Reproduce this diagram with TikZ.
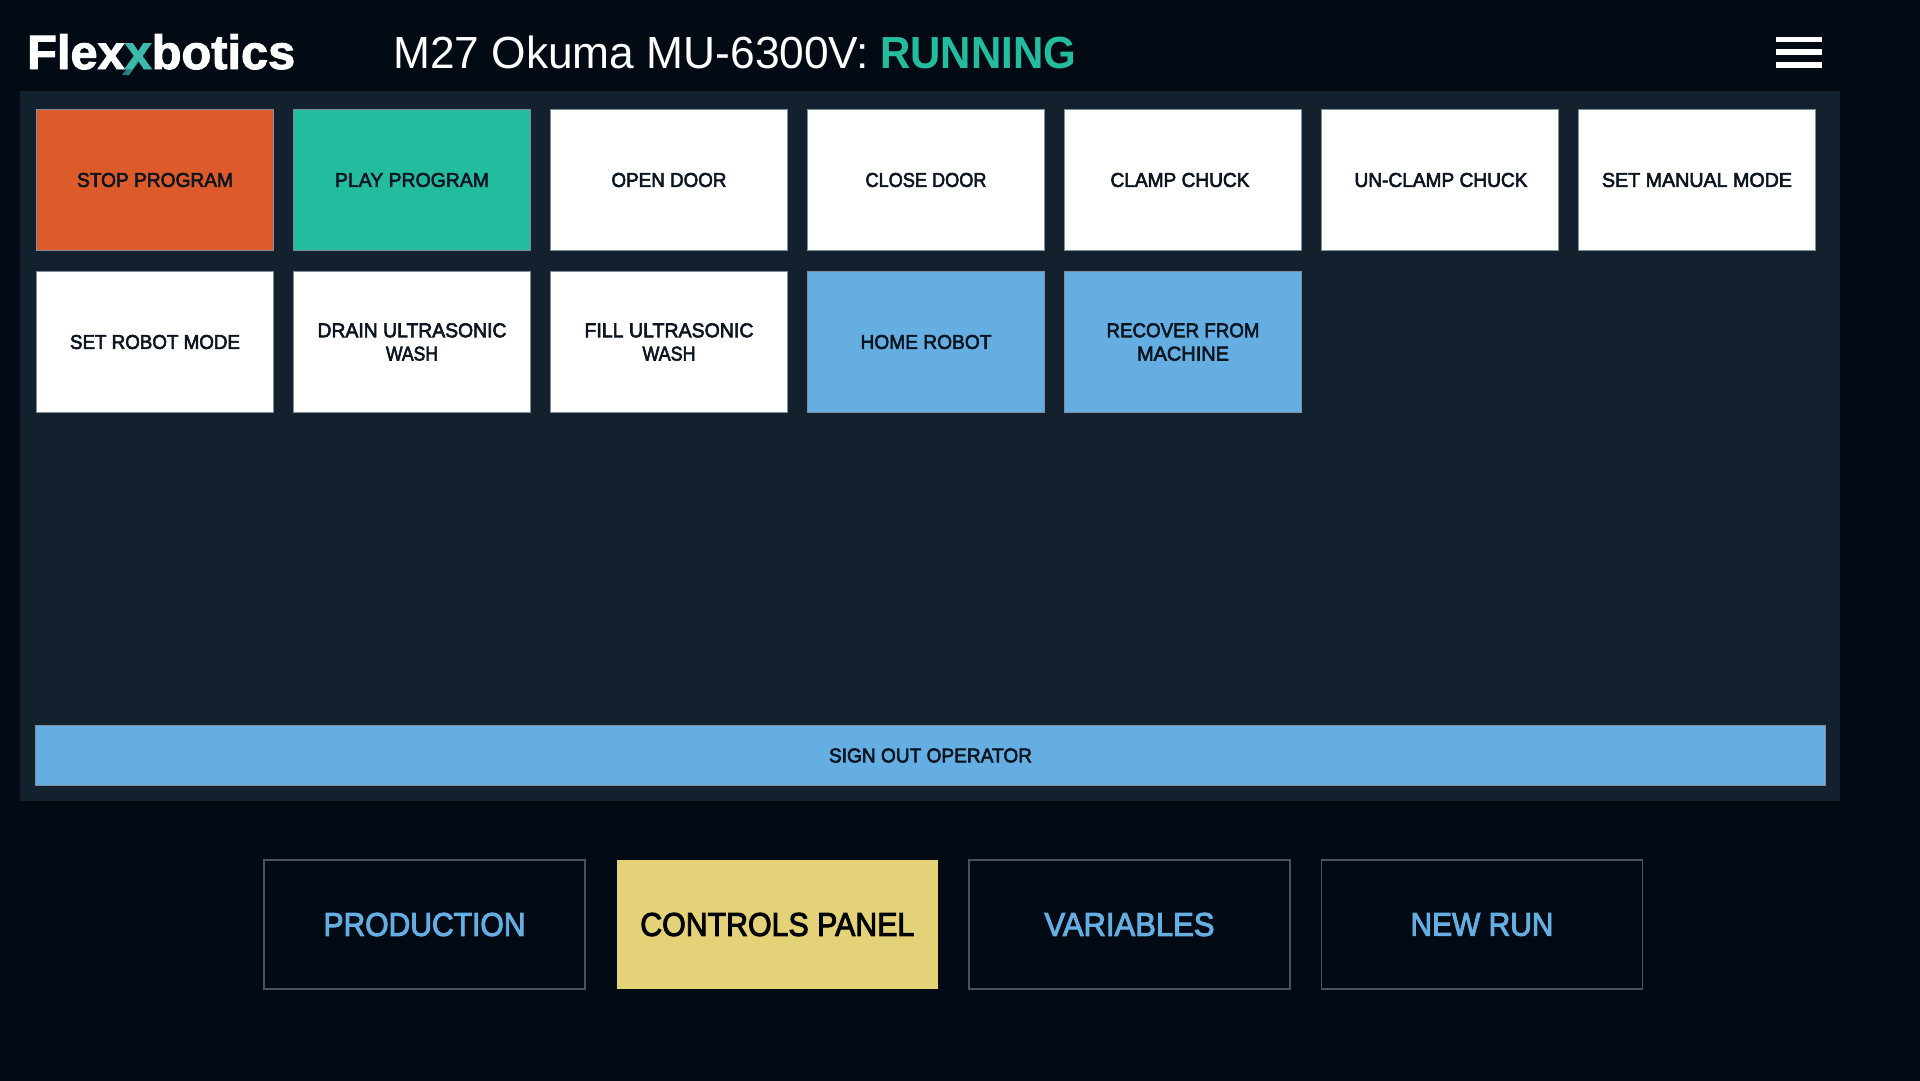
\documentclass[tikz,border=0pt]{standalone}
\usepackage{graphicx}
\usepackage{fontspec}
\setmainfont{Liberation Sans}
\newfontfamily\medfont[FakeBold=3]{Liberation Sans}
\newfontfamily\regfont{Liberation Sans}
\newfontfamily\boldfont{Liberation Sans Bold}
\newfontfamily\heavyfont[FakeBold=2]{Liberation Sans Bold}
\newcommand\fitw[2]{\resizebox{#1pt}{\height}{#2}}
\newcommand\fitb[2]{\raisebox{-1.6pt}{\resizebox{#1pt}{\height}{#2}}}
\definecolor{bgdark}{HTML}{020A14}
\definecolor{panelc}{HTML}{13202E}
\definecolor{edgec}{HTML}{7F8FA0}
\definecolor{orangec}{HTML}{DD5A2A}
\definecolor{tealc}{HTML}{24BC9F}
\definecolor{logoteal}{HTML}{3CB8AC}
\definecolor{bluec}{HTML}{65AEE2}
\definecolor{yellowc}{HTML}{E3D277}
\definecolor{inkc}{HTML}{0C1520}
\tikzset{
  x=1pt,y=-1pt,
  btn/.style={draw=edgec,line width=.8pt,minimum width=237.5pt,minimum height=141.5pt,inner sep=0pt,outer sep=0pt,
    text=inkc,align=center,font=\medfont\fontsize{20}{23.3}\selectfont},
  white btn/.style={btn,fill=white},
  tab/.style={draw=#1,line width=1.4pt,minimum width=321pt,minimum height=129pt,inner sep=0pt,outer sep=0pt,
    font=\medfont\fontsize{33}{36}\selectfont},
  bar/.style={fill=white,draw=none,minimum width=46pt,minimum height=5.8pt,inner sep=0pt},
}
\begin{document}
\begin{tikzpicture}
\useasboundingbox (0,0) rectangle (1920,1080);
\fill[bgdark] (-6,-6) rectangle (1926,1086);
\fill[panelc] (20,90.5) rectangle (1840,801);
% header
\shade[left color=bluec!25!bgdark,right color=logoteal,shading angle=45] (122,75) -- (129,75) -- (146,52) -- (138,52) -- cycle;
\node[anchor=base west,inner sep=0pt,text=white,font=\heavyfont\fontsize{48}{50}\selectfont] (logo) at (27,69)
  {\fitw{268}{Flex{\color{logoteal}x}botics}};
\node[anchor=base west,inner sep=0pt,text=white,font=\regfont\fontsize{45}{50}\selectfont] (title) at (393,68)
  {\fitw{476}{M27 Okuma MU-6300V:}};
\node[anchor=base west,inner sep=0pt,text=tealc,font=\boldfont\fontsize{45}{50}\selectfont] (status) at (880,68)
  {\fitw{196}{RUNNING}};
\node[bar] (m1) at (1798.7,39.5) {};
\node[bar] (m2) at (1798.7,52.2) {};
\node[bar] (m3) at (1798.7,64.9) {};
% row 1
\node[btn,fill=orangec] (stop) at (155,180) {\fitb{156}{STOP PROGRAM}};
\node[btn,fill=tealc] (play) at (412,180) {\fitb{154}{PLAY PROGRAM}};
\node[white btn] (open) at (669,180) {\fitb{115}{OPEN DOOR}};
\node[white btn] (close) at (926,180) {\fitb{121}{CLOSE DOOR}};
\node[white btn] (clamp) at (1183,180) {\fitb{139}{CLAMP CHUCK}\hspace*{6pt}};
\node[white btn] (unclamp) at (1440,180) {\hspace*{2pt}\fitb{173}{UN-CLAMP CHUCK}};
\node[white btn] (manual) at (1697,180) {\fitb{190}{SET MANUAL MODE}};
% row 2
\node[white btn] (robot) at (155,342) {\fitb{170}{SET ROBOT MODE}};
\node[white btn] (drain) at (412,342) {\fitb{189}{DRAIN ULTRASONIC}\\\fitb{52}{WASH}};
\node[white btn] (fill) at (669,342) {\fitb{169}{FILL ULTRASONIC}\\\fitb{53}{WASH}};
\node[btn,fill=bluec] (home) at (926,342) {\fitb{131}{HOME ROBOT}};
\node[btn,fill=bluec] (recover) at (1183,342) {\fitb{153}{RECOVER FROM}\\\fitb{92}{MACHINE}};
% sign out
\node[btn,fill=bluec,minimum width=1790pt,minimum height=60.5pt] (signout) at (930.5,755.5) {\fitb{203}{SIGN OUT OPERATOR}};
% tabs
\node[tab=edgec!55!bgdark,fill=bgdark,text=bluec] (prod) at (424.5,924.5) {\fitb{202}{PRODUCTION}};
\node[tab=yellowc,line width=.5pt,minimum width=320pt,minimum height=128pt,fill=yellowc,text=black] (ctrl) at (777.3,924.5) {\fitb{274}{CONTROLS PANEL}};
\node[tab=edgec!55!bgdark,fill=bgdark,text=bluec] (vars) at (1129.5,924.5) {\fitb{170}{VARIABLES}};
\node[tab=edgec!55!bgdark,fill=bgdark,text=bluec] (newrun) at (1482,924.5) {\fitb{143}{NEW RUN}};
\end{tikzpicture}
\end{document}
